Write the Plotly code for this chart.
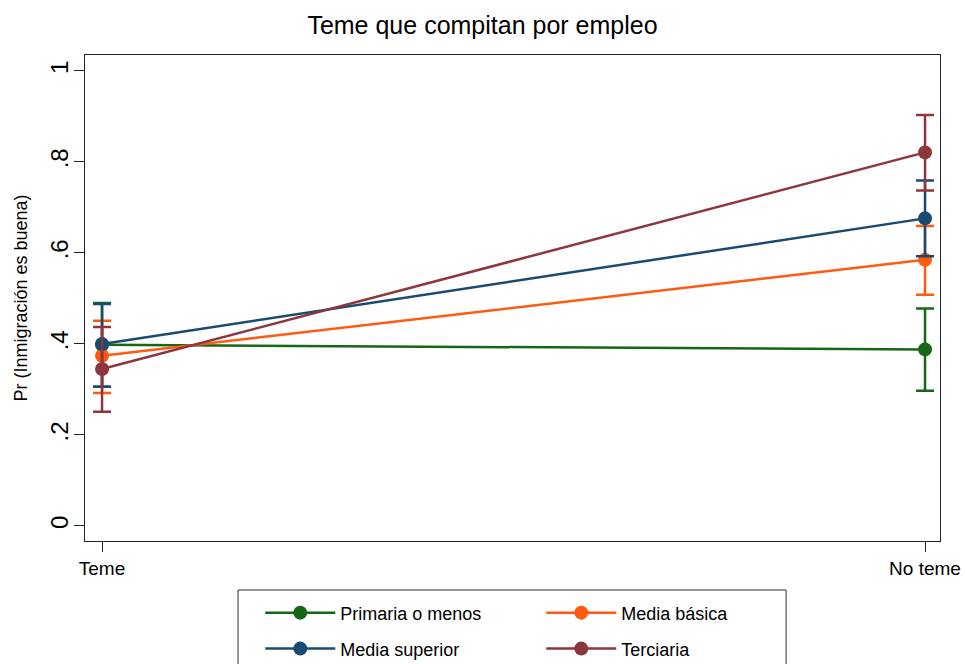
import plotly.graph_objects as go

title = "Teme que compitan por empleo"
categories = ["Teme", "No teme"]
series_names = ["Primaria o menos", "Media básica", "Media superior", "Terciaria"]
colors = ["#166616", "#ff5a0f", "#1a4a72", "#8e363d"]
legend_rows = ["legend", "legend", "legend2", "legend2"]

# point estimates
est_primaria = [0.398, 0.388]
est_basica = [0.374, 0.585]
est_superior = [0.400, 0.676]
est_terciaria = [0.345, 0.821]

# upper / lower confidence limits
hi_primaria = [0.490, 0.478]
lo_primaria = [0.306, 0.297]
hi_basica = [0.451, 0.659]
lo_basica = [0.292, 0.508]
hi_superior = [0.488, 0.759]
lo_superior = [0.306, 0.593]
hi_terciaria = [0.437, 0.903]
lo_terciaria = [0.251, 0.737]

y_tickvals = [0, 0.2, 0.4, 0.6, 0.8, 1]
y_ticktext = ["0", ".2", ".4", ".6", ".8", "1"]

ests = [est_primaria, est_basica, est_superior, est_terciaria]
his = [hi_primaria, hi_basica, hi_superior, hi_terciaria]
los = [lo_primaria, lo_basica, lo_superior, lo_terciaria]

fig = go.Figure()
for name, col, est, hi, lo, lg in zip(series_names, colors, ests, his, los, legend_rows):
    fig.add_trace(go.Scatter(
        x=categories, y=est, name=name, mode="lines+markers",
        legend=lg,
        line=dict(color=col, width=2.5),
        marker=dict(color=col, size=14),
        error_y=dict(type="data", symmetric=False,
                     array=[h - e for h, e in zip(hi, est)],
                     arrayminus=[e - l for e, l in zip(est, lo)],
                     color=col, thickness=2.5, width=9),
    ))

font_family = "Liberation Sans, Arial, sans-serif"
legend_common = dict(orientation="h", xref="paper", yref="paper",
                     x=0.205, xanchor="left", yanchor="middle",
                     entrywidth=196, entrywidthmode="pixels", itemwidth=70,
                     font=dict(size=18, color="black"),
                     borderwidth=0, bgcolor="rgba(0,0,0,0)")

fig.update_layout(
    width=965, height=664,
    margin=dict(l=85, r=25, t=55, b=123, autoexpand=False),
    paper_bgcolor="white", plot_bgcolor="white",
    font=dict(family=font_family, color="black"),
    title=dict(text=title, x=0.5, xref="container", xanchor="center",
               y=1 - 25 / 664, yref="container", yanchor="middle",
               font=dict(size=25, color="black")),
    showlegend=True,
    legend=dict(y=-0.148, **legend_common),
    legend2=dict(y=-0.222, **legend_common),
    shapes=[dict(type="rect", xref="paper", yref="paper",
                 x0=0.179, x1=0.820, y0=-0.1008, y1=-0.30,
                 line=dict(color="#333333", width=1), fillcolor="white",
                 layer="below")],
    xaxis=dict(type="category", range=[-0.0207, 1.0182], automargin=False,
               showline=True, linecolor="#222222", linewidth=1, mirror=True,
               ticks="outside", ticklen=10, tickcolor="#222222",
               showgrid=False, zeroline=False,
               tickfont=dict(size=19, color="black")),
    yaxis=dict(range=[-0.033, 1.035], tickvals=y_tickvals, ticktext=y_ticktext,
               tickangle=-90, automargin=False, ticklabelstandoff=-4,
               showline=True, linecolor="#222222", linewidth=1, mirror=True,
               ticks="outside", ticklen=10, tickcolor="#222222",
               showgrid=False, zeroline=False,
               tickfont=dict(size=24, color="black"),
               title=dict(text="Pr (Inmigración es buena)", standoff=14,
                          font=dict(size=18, color="black"))),
)

fig.write_html("out.html", config={"displayModeBar": False},
               post_script="document.body.style.margin='0px';")
